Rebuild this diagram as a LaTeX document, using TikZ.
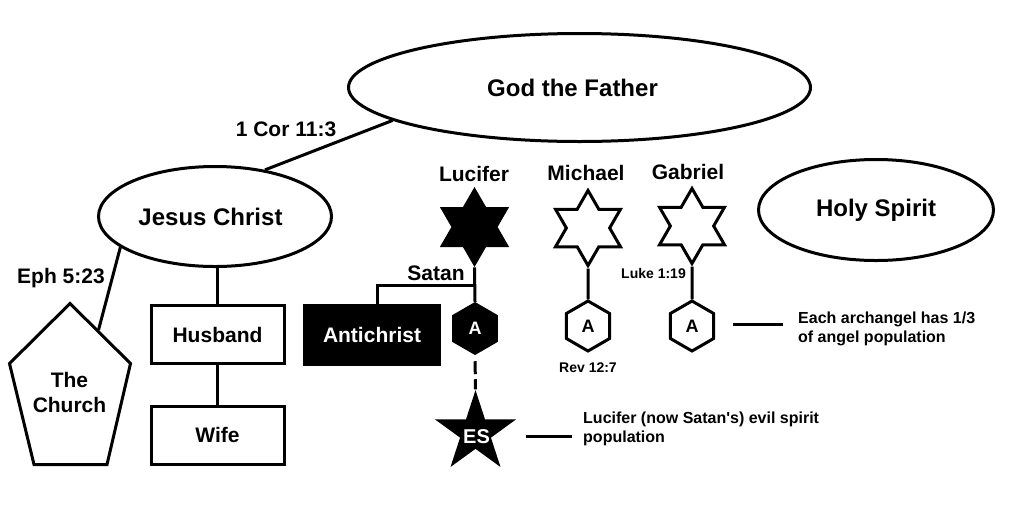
\documentclass[tikz,border=0pt]{standalone}
\usepackage{fontspec}
\setmainfont{Liberation Sans}
\usetikzlibrary{shapes.geometric}
\begin{document}
\begin{tikzpicture}[x=1pt,y=-1pt,
  ln/.style={line width=3pt},
  bigtxt/.style={font=\fontsize{24}{28}\selectfont\bfseries},
  midtxt/.style={font=\fontsize{21}{25}\selectfont\bfseries},
  smalltxt/.style={font=\fontsize{14}{17}\selectfont\bfseries},
  notetxt/.style={font=\fontsize{16}{19}\selectfont\bfseries, align=left, anchor=west, inner sep=0pt},
  oval/.style={ellipse, draw, line width=3pt, inner sep=0pt, bigtxt},
  rectbox/.style={rectangle, draw, line width=3pt, minimum width=133pt, minimum height=58pt, inner sep=0pt, midtxt},
  darkbox/.style={rectangle, fill=black, draw=black, line width=3pt, text=white, minimum width=135pt, minimum height=59pt, inner sep=0pt, midtxt},
  hexagram/.style={star, star points=6, star point ratio=1.732, inner sep=0pt},
  openstar/.style={hexagram, draw, line width=3pt, minimum size=75pt, miter limit=10},
  darkstar/.style={hexagram, fill=black, minimum size=80pt},
  hexfont/.style={font=\fontsize{18}{20}\selectfont\bfseries},
  openhex/.style={regular polygon, regular polygon sides=6, shape border rotate=30, draw, line width=3pt, minimum size=50pt, inner sep=0pt, hexfont},
  darkhex/.style={regular polygon, regular polygon sides=6, shape border rotate=30, fill=black, text=white, minimum size=53pt, inner sep=0pt, hexfont},
  pentastar/.style={star, star points=5, star point ratio=2.618, fill=black, minimum size=85pt, inner sep=0pt}
]
\useasboundingbox (0,0) rectangle (1024,531);
\fill[white] (0,0) rectangle (1024,531);

% ellipses
\node[oval, minimum width=462pt, minimum height=108pt] (god) at (579.5,87.5) {\hspace*{-14pt}God the Father};
\node[oval, minimum width=233pt, minimum height=100pt] (jesus) at (215,216.5) {\hspace*{-9pt}Jesus Christ};
\node[oval, minimum width=235pt, minimum height=101pt] (holy) at (876,210) {\raisebox{2pt}{Holy Spirit}};

\draw[ln] (jesus.43) -- (god.190.5);
\node[midtxt] (cor) at (286,129) {1 Cor 11:3};

% church
\coordinate (p1) at (70,303.5);
\coordinate (p2) at (130.5,363.5);
\coordinate (p3) at (107,464.5);
\coordinate (p4) at (34,464.5);
\coordinate (p5) at (9.5,363.5);
\draw[ln] (p1) -- (p2) -- (p3) -- (p4) -- (p5) -- cycle;
\node[midtxt, align=center] (church) at (69.5,392.5) {The\\Church};
\coordinate (churchjoin) at (98.5,330);
\draw[ln] (jesus.198) -- (churchjoin);
\node[midtxt] (eph) at (61,278) {Eph 5:23};

% husband / wife
\node[rectbox] (husband) at (217.5,334.5) {Husband};
\node[rectbox] (wife) at (217.5,435) {Wife};
\draw[ln] (jesus.south -| husband.north) -- (husband.north);
\draw[ln] (husband.south) -- (wife.north);

% Lucifer branch
\node[darkbox] (anti) at (372,335) {Antichrist};
\node[darkstar] (lucstar) at (474.5,227) {};
\node[midtxt] (luclab) at (474,174) {Lucifer};
\node[darkhex] (luchex) at (475,328.5) {A};
\draw[ln] (lucstar.south) -- (luchex.north);
\coordinate (satanjoin) at (475,285);
\draw[ln] ([xshift=5pt]anti.north) |- (satanjoin);
\node[midtxt] (satan) at (436,273) {Satan};
\node[pentastar] (es) at (475.5,432.6) {};
\node[font=\fontsize{20}{22}\selectfont\bfseries, text=white] (estext) at (476.5,437) {ES};
\draw[ln, dash pattern=on 13pt off 5pt, shorten <=6pt] (luchex.south) -- (es.north);

% Michael
\node[openstar] (michstar) at (588,228) {};
\node[midtxt] (michlab) at (586,173) {Michael};
\node[openhex] (michhex) at (588,326) {A};
\draw[ln] (michstar.south) -- (michhex.north);
\node[smalltxt] (rev) at (588,368) {Rev 12:7};

% Gabriel
\node[openstar] (gabstar) at (692,226) {};
\node[midtxt] (gablab) at (688,172) {Gabriel};
\node[openhex] (gabhex) at (692,326) {A};
\draw[ln] (gabstar.south) -- (gabhex.north);
\node[smalltxt] (luke) at (653.5,273) {Luke 1:19};

% notes
\coordinate (al1) at (733,324);
\coordinate (al2) at (783,324);
\draw[ln] (al1) -- (al2);
\node[notetxt] (archnote) at (798,329) {Each archangel has 1/3\\of angel population};

\coordinate (el1) at (526,436);
\coordinate (el2) at (572,436);
\draw[ln] (el1) -- (el2);
\node[notetxt] (esnote) at (583,429) {Lucifer (now Satan\textquotesingle s) evil spirit\\population};
\end{tikzpicture}
\end{document}
